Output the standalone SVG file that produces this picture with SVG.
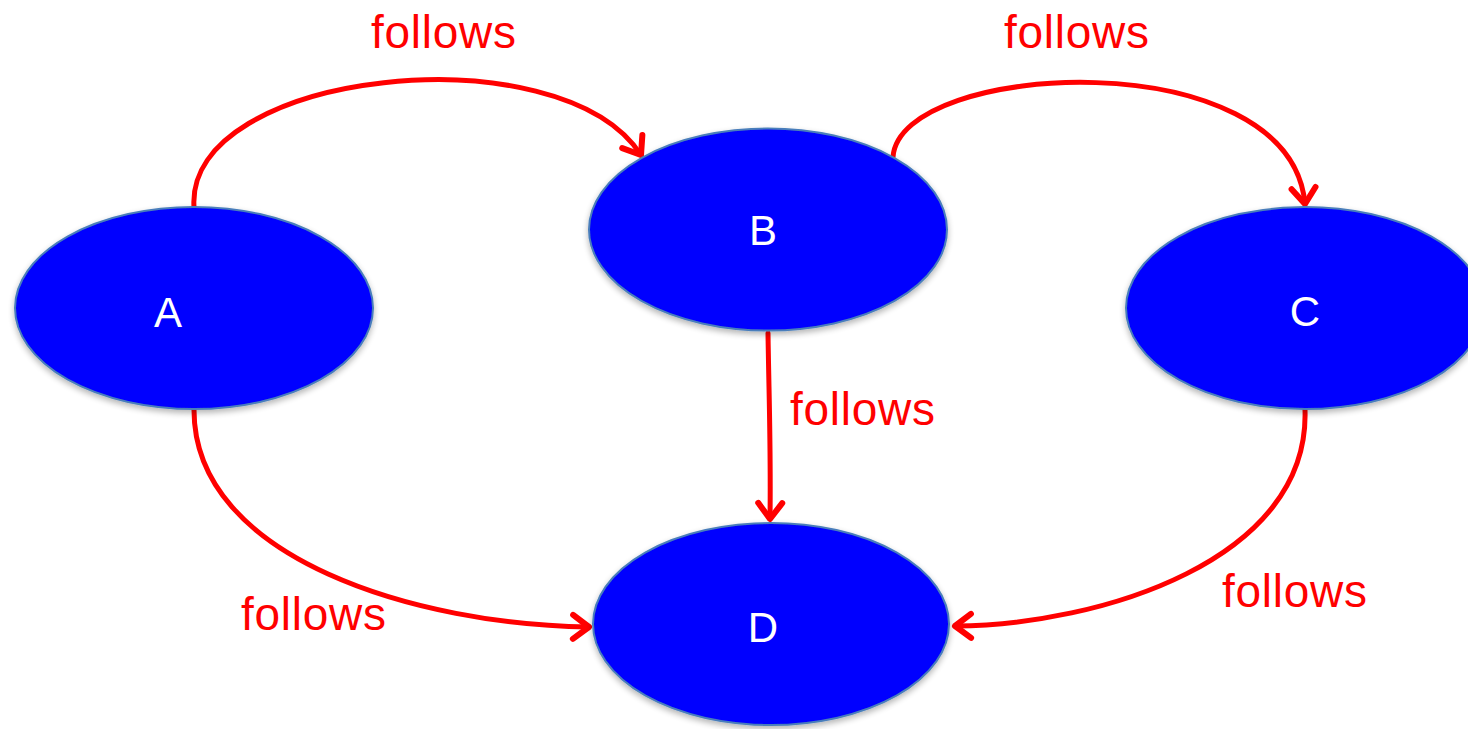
<svg xmlns="http://www.w3.org/2000/svg" width="1468" height="729" viewBox="0 0 1468 729">
<defs>
<style>
.node{fill:#0000ff;stroke:#4a7ebb;stroke-width:2;filter:url(#sh)}
.lbl{fill:#ffffff;font-family:"Liberation Sans",Arial,sans-serif;font-size:42px;text-anchor:middle}
.edge{fill:none;stroke:#ff0000;stroke-width:5;stroke-linecap:round;marker-end:url(#arr)}
.elbl{fill:#ff0000;font-family:"Liberation Sans",Arial,sans-serif;font-size:46px}
</style>
<filter id="sh" x="-10%" y="-10%" width="120%" height="125%">
<feGaussianBlur in="SourceAlpha" stdDeviation="3"/>
<feOffset dx="0" dy="3" result="b"/>
<feComponentTransfer><feFuncA type="linear" slope="0.3"/></feComponentTransfer>
<feMerge><feMergeNode/><feMergeNode in="SourceGraphic"/></feMerge>
</filter>
<marker id="arr" markerUnits="userSpaceOnUse" viewBox="0 0 30 30" markerWidth="30" markerHeight="30" refX="24" refY="15" orient="auto" overflow="visible">
<path d="M8,3 L24,15 L8,27" fill="none" stroke="#ff0000" stroke-width="6" stroke-linecap="round" stroke-linejoin="round"/>
</marker>
</defs>
<rect width="1468" height="729" fill="#ffffff"/>
<g id="connectors">
<path class="edge" d="M194,207 C185,70 560,30 641,155"/>
<path class="edge" d="M893,157 C900,60 1290,40 1305,204"/>
<path class="edge" d="M768,333 C769,400 771,450 770,519"/>
<path class="edge" d="M194,410 C194,560 420,625 589,627"/>
<path class="edge" d="M1305,410 C1310,560 1100,625 955,626"/>
</g>
<g id="node-A"><ellipse class="node" cx="194" cy="308" rx="179" ry="101"/><text class="lbl" x="168" y="327">A</text></g>
<g id="node-B"><ellipse class="node" cx="768" cy="229.5" rx="179" ry="101"/><text class="lbl" x="763" y="245">B</text></g>
<g id="node-C"><ellipse class="node" cx="1305" cy="308" rx="179" ry="101"/><text class="lbl" x="1305" y="326">C</text></g>
<g id="node-D"><ellipse class="node" cx="771" cy="624" rx="178" ry="101"/><text class="lbl" x="763" y="642">D</text></g>
<g id="edge-labels">
<text class="elbl" x="371" y="48" textLength="145">follows</text>
<text class="elbl" x="1004" y="48" textLength="145">follows</text>
<text class="elbl" x="790" y="425" textLength="145">follows</text>
<text class="elbl" x="241" y="630" textLength="145">follows</text>
<text class="elbl" x="1222" y="607" textLength="145">follows</text>
</g>
</svg>
